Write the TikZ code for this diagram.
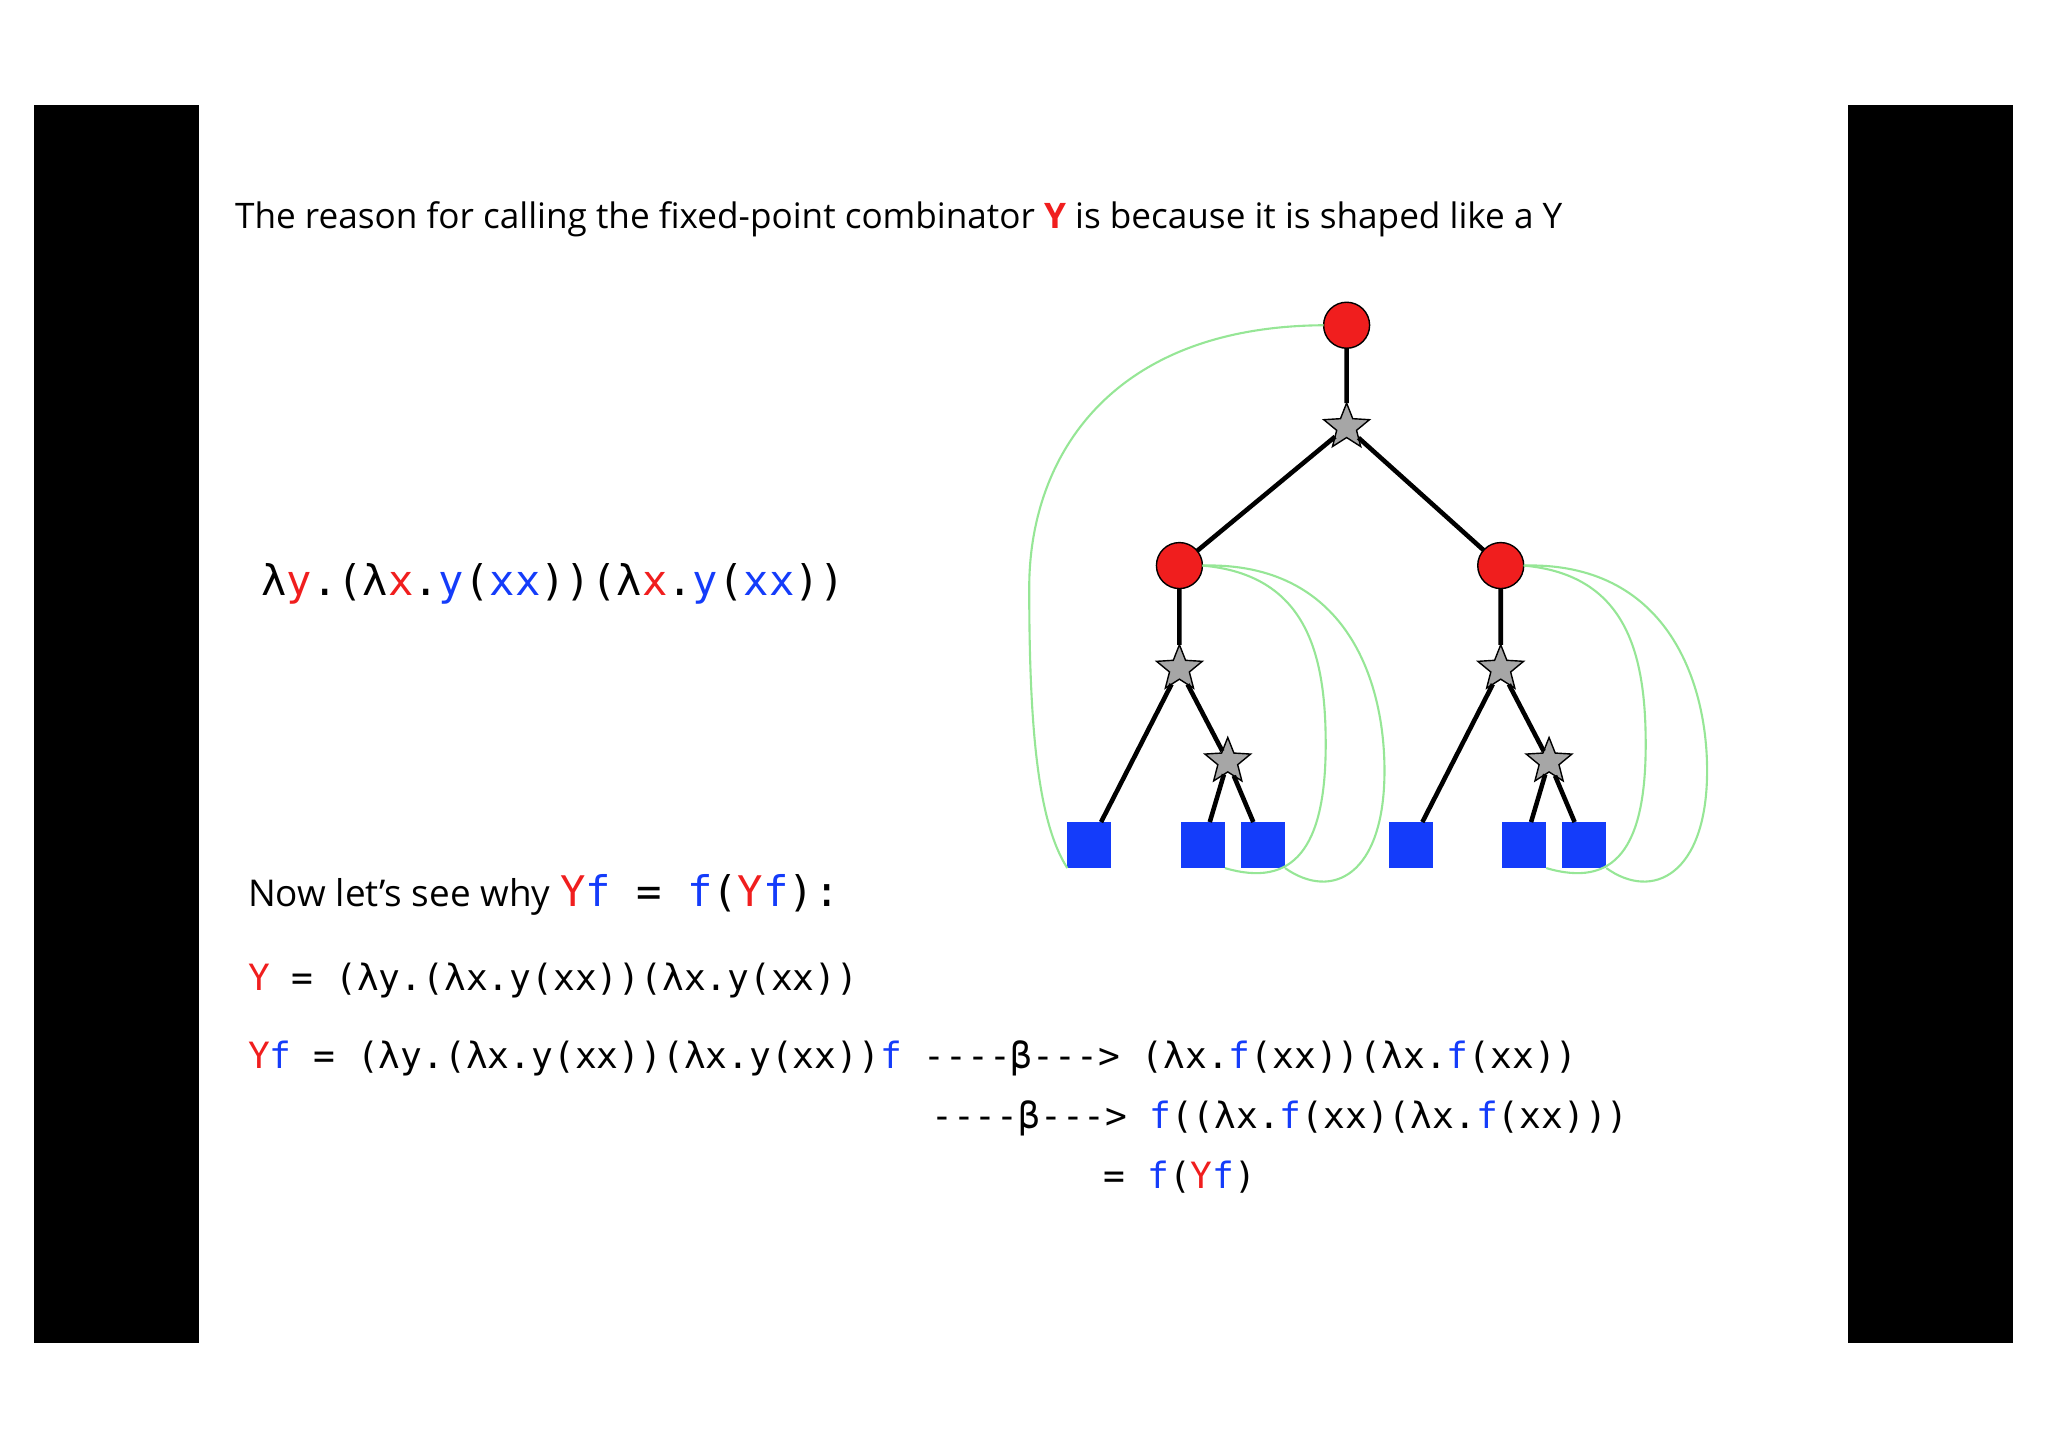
\documentclass[tikz,border=0pt]{standalone}
\usepackage{fontspec}
\setmainfont{Open Sans}
\setmonofont{DejaVu Sans Mono}
\usetikzlibrary{shapes.geometric}
\definecolor{myred}{RGB}{240,30,30}
\definecolor{myblue}{RGB}{20,60,250}
\definecolor{mygreen}{RGB}{150,230,150}
\newcommand{\R}[1]{\textcolor{myred}{#1}}
\newcommand{\B}[1]{\textcolor{myblue}{#1}}
\begin{document}
\begin{tikzpicture}[x=0.01306cm,y=-0.01306cm,
  every node/.style={inner sep=0pt, outer sep=0pt},
  app/.style={draw, circle, fill=myred, minimum size=35\pgflinewidth*0+0.46cm},
  lam/.style={draw, star, star points=5, star point ratio=2.3, fill=gray!70, minimum size=0.48cm},
  var/.style={fill=myblue, minimum width=0.44cm, minimum height=0.46cm},
  edge/.style={line width=1.3pt},
  back/.style={mygreen, line width=0.6pt},
  txt/.style={anchor=base west}]
\useasboundingbox (0,0) rectangle (1568,1109);
\fill[black] (26,80) rectangle (152,1028);
\fill[black] (1415,80) rectangle (1541,1028);
% title
\node[txt, font=\fontsize{10}{12}\selectfont] (title) at (180,175)
  {The reason for calling the fixed-point combinator \R{\textbf{Y}} is because it is shaped like a Y};
% lambda term
\node[txt, font=\fontsize{12}{14}\ttfamily] (term) at (200,456)
  {λ\R{y}.(λ\R{x}.\B{y}(\B{xx}))(λ\R{x}.\B{y}(\B{xx}))};
% tree
\node[app] (root) at (1031,249) {};
\node[lam] (s0) at (1031,327) {};
\node[app] (l) at (903,433) {};
\node[app] (r) at (1149,433) {};
\node[lam] (ls) at (903,512) {};
\node[lam] (lss) at (940,583) {};
\node[lam] (rs) at (1149,512) {};
\node[lam] (rss) at (1186,583) {};
\node[var] (l1) at (834,647) {};
\node[var] (l2) at (921,647) {};
\node[var] (l3) at (967,647) {};
\node[var] (r1) at (1080,647) {};
\node[var] (r2) at (1167,647) {};
\node[var] (r3) at (1213,647) {};
\begin{scope}[on background layer/.try]
\draw[edge] (root) -- (s0) (s0) -- (l) (s0) -- (r);
\draw[edge] (l) -- (ls) (ls) -- (l1) (ls) -- (lss) (lss) -- (l2) (lss) -- (l3);
\draw[edge] (r) -- (rs) (rs) -- (r1) (rs) -- (rss) (rss) -- (r2) (rss) -- (r3);
\end{scope}
% back links
\draw[back] (root.west) .. controls (850,250) and (788,350) .. (788,450)
  .. controls (788,560) and (795,630) .. (l1.south west);
\draw[back] (l.east) .. controls (1000,440) and (1015,500) .. (1015,570)
  .. controls (1015,650) and (990,680) .. (l2.south east);
\draw[back] (l.east) .. controls (1030,430) and (1060,520) .. (1060,590)
  .. controls (1060,670) and (1020,690) .. (l3.south east);
\draw[back] (r.east) .. controls (1245,440) and (1260,500) .. (1260,570)
  .. controls (1260,650) and (1236,680) .. (r2.south east);
\draw[back] (r.east) .. controls (1275,430) and (1307,520) .. (1307,590)
  .. controls (1307,670) and (1265,690) .. (r3.south east);
% equations
\node[txt, font=\fontsize{10.5}{12}\selectfont] (now) at (190,694)
  {Now let’s see why {\ttfamily\fontsize{12}{14}\selectfont\R{Y}\B{f} = \B{f}(\R{Y}\B{f}):}};
\begin{scope}[every node/.append style={txt, font=\fontsize{10.3}{12}\ttfamily}]
\node (eqY) at (190,758) {\R{Y} = (λy.(λx.y(xx))(λx.y(xx))};
\node (eqYf) at (190,818) {\R{Y}\B{f} = (λy.(λx.y(xx))(λx.y(xx))\B{f} ----β---> (λx.\B{f}(xx))(λx.\B{f}(xx))};
\node (step) at (713,864) {----β---> \B{f}((λx.\B{f}(xx)(λx.\B{f}(xx)))};
\node (fin) at (845,910) {= \B{f}(\R{Y}\B{f})};
\end{scope}
\end{tikzpicture}
\end{document}
